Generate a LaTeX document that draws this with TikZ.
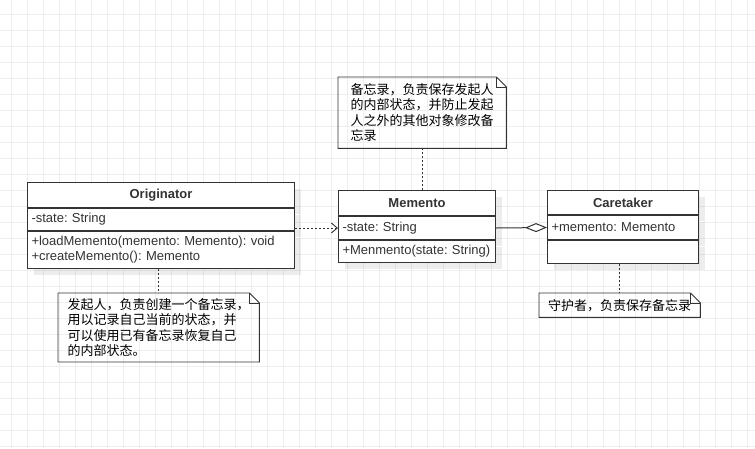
\documentclass[tikz,border=0pt]{standalone}
\usepackage{fontspec}
\setmainfont{Liberation Sans}
\newfontfamily\cjk{Noto Sans CJK SC}
\usetikzlibrary{positioning,arrows.meta,shadows}
\frenchspacing

\definecolor{gridgray}{HTML}{EEEEEE}
\definecolor{ink}{HTML}{333333}

\tikzset{
  box/.style={draw=ink, line width=1pt, fill=white, inner xsep=4pt, inner ysep=0pt,
    text=ink, font=\fontsize{13}{15}\selectfont,
    drop shadow={shadow xshift=6pt, shadow yshift=-6pt, fill=black, opacity=0.07}},
  classtitle/.style={box, font=\fontsize{13}{15}\selectfont\bfseries, align=center, anchor=north west},
  member/.style={box, align=left},
  note/.style={inner sep=5pt, align=left, anchor=north west, font=\cjk\fontsize{13}{15.5}\selectfont},
  noteline/.style={draw=ink, line width=0.9pt},
  dotlink/.style={draw=ink, line width=0.9pt, dash pattern=on 2pt off 2pt},
  gridline/.style={gridgray, line width=0.8pt},
}

\begin{document}
\begin{tikzpicture}[x=1pt,y=-1pt]
\useasboundingbox (0,0) rectangle (755,448);
\fill[white] (0,0) rectangle (755,448);

% background grid
\foreach \gx in {11,27,...,755}
  \draw[gridline] (\gx,0) -- (\gx,448);
\foreach \gy in {14,30,...,446}
  \draw[gridline] (0,\gy) -- (755,\gy);

% classes
\node[classtitle, minimum width=267, minimum height=25] (orig) at (27,182) {Originator};
\node[member, text width=259, minimum height=22, below=0pt of orig] (origA) {-state: String};
\node[member, text width=259, minimum height=37, below=0pt of origA] (origM) {+loadMemento(memento: Memento): void\\+createMemento(): Memento};

\node[classtitle, minimum width=157, minimum height=25] (mem) at (338,190) {Memento};
\node[member, text width=149, minimum height=23, below=0pt of mem] (memA) {-state: String};
\node[member, text width=149, minimum height=22, below=0pt of memA] (memM) {+Menmento(state: String)};

\node[classtitle, minimum width=151, minimum height=24] (care) at (547,190) {Caretaker};
\node[member, text width=143, minimum height=24, below=0pt of care] (careA) {+memento: Memento};
\node[member, text width=143, minimum height=23, below=0pt of careA] (careM) {};

% notes
\node[note, minimum width=168, minimum height=71] (nMem) at (338,77)
  {备忘录，负责保存发起人\\的内部状态，并防止发起\\人之外的其他对象修改备\\忘录};
\node[note, minimum width=201, minimum height=68] (nOrig) at (58,293)
  {发起人，负责创建一个备忘录，\\用以记录自己当前的状态，并\\可以使用已有备忘录恢复自己\\的内部状态。};
\node[note, minimum width=161, minimum height=24, inner ysep=0pt] (nCare) at (539,293)
  {守护者，负责保存备忘录};

\foreach \n in {nMem,nOrig,nCare} {
  \draw[noteline] (\n.north west) -- ([xshift=-10pt]\n.north east)
    -- ([yshift=-10pt]\n.north east) -- (\n.south east) -- (\n.south west) -- cycle;
  \draw[noteline] ([xshift=-10pt]\n.north east) -- ([xshift=-10pt,yshift=-10pt]\n.north east)
    -- ([yshift=-10pt]\n.north east);
}

% connectors
\draw[dotlink] (nMem.south) -- (nMem.south |- mem.north);
\draw[dotlink] (nOrig.north |- origM.south) -- (nOrig.north);
\draw[dotlink] (nCare.north |- careM.south) -- (nCare.north);
\draw[dotlink, -{Straight Barb[length=6pt,width=10pt]}] (origA.east |- memA.west) -- (memA.west);
\draw[draw=ink, line width=1pt, -{Diamond[open,fill=white,length=22pt,width=9pt]}] (memA.east) -- (careA.west);
\end{tikzpicture}
\end{document}
